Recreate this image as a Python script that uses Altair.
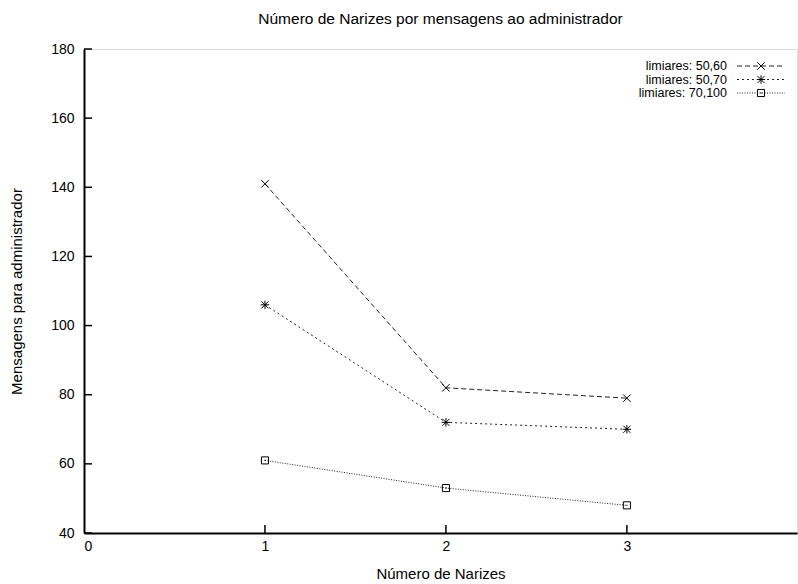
import altair as alt
import pandas as pd

narizes = [1, 2, 3]
series_names = ["limiares: 50,60", "limiares: 50,70", "limiares: 70,100"]
vals_50_60 = [141, 82, 79]
vals_50_70 = [106, 72, 70]
vals_70_100 = [61, 53, 48]
x_ticks = [0, 1, 2, 3]
y_ticks = [40, 60, 80, 100, 120, 140, 160, 180]

W, H = 713, 484
FONT = "Liberation Sans"

X_PATH = "M-1,-1L1,1M-1,1L1,-1"
STAR_PATH = "M-1,-1L1,1M-1,1L1,-1M0,-1.2L0,1.2M-1.2,0L1.2,0"

styles = [
    dict(dash=[5, 3], shape=X_PATH, size=56, sq=False),
    dict(dash=[2, 3], shape=STAR_PATH, size=50, sq=False),
    dict(dash=[1, 1.5], shape="square", size=50, sq=True),
]
all_vals = [vals_50_60, vals_50_70, vals_70_100]

xs = alt.Scale(domain=[0, 3.94], nice=False, zero=False)
ys = alt.Scale(domain=[40, 180], nice=False, zero=False)

xaxis = alt.Axis(values=x_ticks, ticks=False, grid=False, domainColor="black", domainWidth=2,
                 labelFont=FONT, labelFontSize=14, labelPadding=6, labelColor="black",
                 title="Número de Narizes", titleFont=FONT, titleFontSize=15, titleFontWeight="normal",
                 titlePadding=13, titleColor="black", format="d")
yaxis = alt.Axis(values=y_ticks, ticks=False, grid=False, domainColor="black", domainWidth=2,
                 labelFont=FONT, labelFontSize=14, labelPadding=10, labelColor="black",
                 title="Mensagens para administrador", titleFont=FONT, titleFontSize=15,
                 titleFontWeight="normal", titlePadding=26, titleColor="black", format="d")

layers = []

base_df = pd.DataFrame({"x": [0], "y": [40]})
layers.append(alt.Chart(base_df).mark_point(opacity=0).encode(
    x=alt.X("x:Q", scale=xs, axis=xaxis), y=alt.Y("y:Q", scale=ys, axis=yaxis)))

ytick_df = pd.DataFrame({"y": y_ticks})
layers.append(alt.Chart(ytick_df).mark_rule(color="black", strokeWidth=1.5).encode(
    x=alt.value(0), x2=alt.value(8), y=alt.Y("y:Q", scale=ys)))
xtick_df = pd.DataFrame({"x": x_ticks[1:]})
layers.append(alt.Chart(xtick_df).mark_rule(color="black", strokeWidth=1.5).encode(
    x=alt.X("x:Q", scale=xs), y=alt.value(H), y2=alt.value(H - 8)))

legend_y = [17, 30.5, 44]
for name, vals, st, ly in zip(series_names, all_vals, styles, legend_y):
    df = pd.DataFrame({"x": narizes, "y": vals, "s": name})
    layers.append(alt.Chart(df).mark_line(color="#222", strokeWidth=1, strokeDash=st["dash"]).encode(
        x=alt.X("x:Q", scale=xs), y=alt.Y("y:Q", scale=ys)))
    layers.append(alt.Chart(df).mark_point(shape=st["shape"], size=st["size"], color="black",
                                           filled=False, strokeWidth=1, opacity=1).encode(
        x=alt.X("x:Q", scale=xs), y=alt.Y("y:Q", scale=ys)))
    if st["sq"]:
        layers.append(alt.Chart(df).mark_point(shape="square", size=2, color="black", filled=True).encode(
            x=alt.X("x:Q", scale=xs), y=alt.Y("y:Q", scale=ys)))
    ldf = pd.DataFrame({"s": [name]})
    layers.append(alt.Chart(ldf).mark_text(align="right", baseline="middle", font=FONT, fontSize=12.5,
                                           color="black").encode(
        text="s:N", x=alt.value(643), y=alt.value(ly)))
    layers.append(alt.Chart(ldf).mark_rule(color="#222", strokeWidth=1, strokeDash=st["dash"]).encode(
        x=alt.value(653), x2=alt.value(701), y=alt.value(ly)))
    layers.append(alt.Chart(ldf).mark_point(shape=st["shape"], size=st["size"], color="black",
                                            filled=False, strokeWidth=1, opacity=1).encode(
        x=alt.value(677), y=alt.value(ly)))
    if st["sq"]:
        layers.append(alt.Chart(ldf).mark_point(shape="square", size=2, color="black", filled=True).encode(
            x=alt.value(677), y=alt.value(ly)))

chart = alt.layer(*layers).properties(
    width=W, height=H,
    title=alt.TitleParams("Número de Narizes por mensagens ao administrador", font=FONT, fontSize=15.5,
                          fontWeight="normal", color="black", anchor="middle", offset=15),
    autosize=alt.AutoSizeParams(type="none"),
    padding={"left": 84, "top": 49, "right": 1, "bottom": 51},
).configure_view(stroke=None).configure(background="white")

chart.save("out.html", embed_options={"renderer": "svg", "actions": False})
